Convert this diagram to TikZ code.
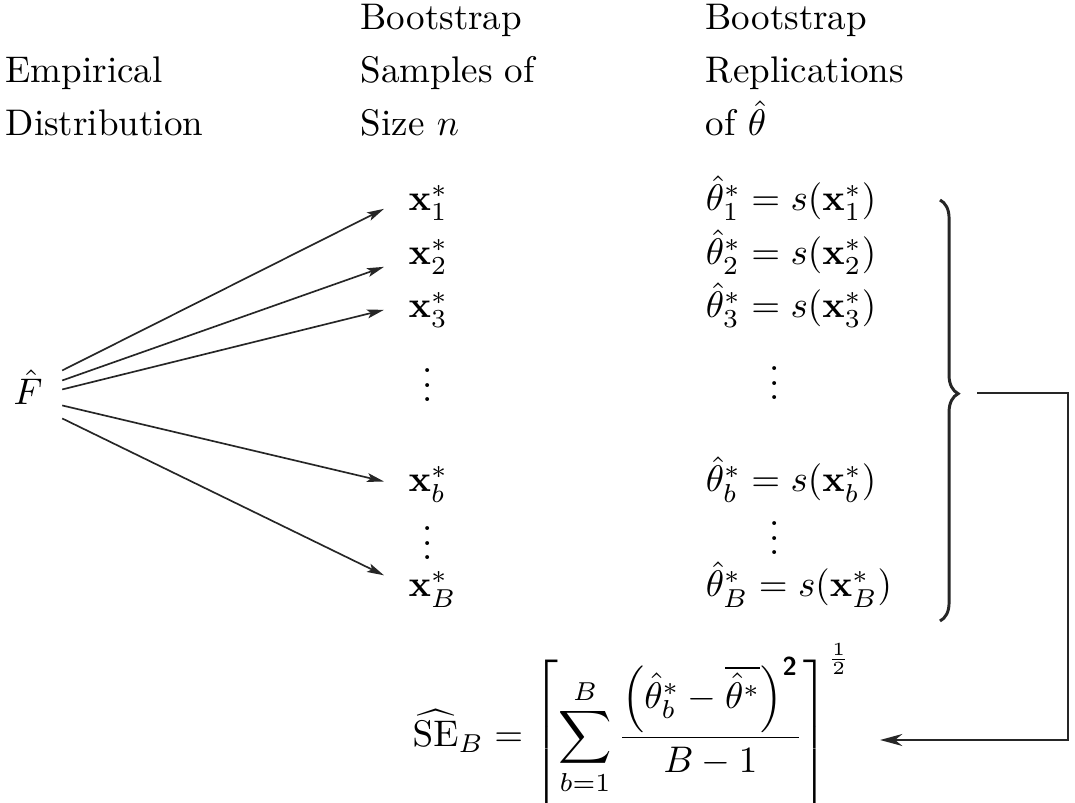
\documentclass[tikz,border=0pt]{standalone}
\usepackage{amsmath}
\usetikzlibrary{arrows.meta,decorations.pathreplacing,calc}
\begin{document}
\begin{tikzpicture}[x=0.27pt,y=-0.27pt,
  lbl/.style={anchor=base west, inner sep=0pt},
  dotsnode/.style={anchor=base, inner sep=0pt},
  samp/.style={-{Stealth[length=4.6pt,width=2.4pt,inset=1pt]}, line width=0.45pt, black!85},
  brc/.style={decorate, decoration={brace, amplitude=4.9pt, aspect=0.46}, line width=0.8pt, black!85},
  back/.style={-{Stealth[length=6pt,width=3.2pt]}, line width=0.8pt, black!85}]
\useasboundingbox (0,0) rectangle (1075,803);
\fill[white] (0,0) rectangle (1075,803);
% headings
\node[lbl] (h1) at (5,83) {Empirical};
\node[lbl] (h2) at (5,136) {Distribution};
\node[lbl] (h3) at (360,30) {Bootstrap};
\node[lbl] (h4) at (360,83) {Samples of};
\node[lbl] (h5) at (360,136) {Size $n$};
\node[lbl] (h6) at (705,30) {Bootstrap};
\node[lbl] (h7) at (705,83) {Replications};
\node[lbl] (h8) at (705,136) {of $\hat\theta$};
% empirical distribution
\node[anchor=base, inner sep=0pt] (F) at (28,405) {$\hat F$};
% samples
\node[lbl] (x1) at (408,211) {$\mathbf{x}^*_1$};
\node[lbl] (x2) at (408,265) {$\mathbf{x}^*_2$};
\node[lbl] (x3) at (408,318) {$\mathbf{x}^*_3$};
\node[dotsnode] (d1) at (428,402) {$\vdots$};
\node[lbl] (xb) at (408,492) {$\mathbf{x}^*_b$};
\node[dotsnode] (d2) at (428,560) {$\vdots$};
\node[lbl] (xB) at (408,597) {$\mathbf{x}^*_B$};
% replications
\node[lbl] (t1) at (705,211) {$\hat\theta^*_1 = s(\mathbf{x}^*_1)$};
\node[lbl] (t2) at (705,265) {$\hat\theta^*_2 = s(\mathbf{x}^*_2)$};
\node[lbl] (t3) at (705,318) {$\hat\theta^*_3 = s(\mathbf{x}^*_3)$};
\node[dotsnode] (d3) at (775,400) {$\vdots$};
\node[lbl] (tb) at (705,492) {$\hat\theta^*_b = s(\mathbf{x}^*_b)$};
\node[dotsnode] (d4) at (775,555) {$\vdots$};
\node[lbl] (tB) at (705,597) {$\hat\theta^*_B = s(\mathbf{x}^*_B)$};
% arrows
\draw[samp] ($(F.east)+(19,-17)$) -- ($(x1.west)+(-24,6)$);
\draw[samp] ($(F.east)+(19,-7)$) -- ($(x2.west)+(-24,10)$);
\draw[samp] ($(F.east)+(19,2)$) -- ($(x3.west)+(-24,0)$);
\draw[samp] ($(F.east)+(19,18)$) -- ($(xb.west)+(-24,-3)$);
\draw[samp] ($(F.east)+(19,31)$) -- ($(xB.west)+(-24,-14)$);
% brace
\coordinate (btop) at (940,200);
\coordinate (bbot) at (940,621);
\coordinate (tip) at (958,393);
\draw[brc] (btop) -- (bbot);
% formula
\node[anchor=base west, inner sep=0pt] (SE) at (412,747)
  {$\displaystyle \widehat{\mathrm{SE}}_B = \left[\sum_{b=1}^{B}\frac{\Bigl(\hat\theta^*_b-\overline{\hat\theta^*}\Bigr)^{\textsf{\bfseries 2}}}{B-1}\right]^{\frac{1}{2}}$};
% feedback connector
\coordinate (corner) at (1068,393);
\coordinate (fin) at (880,740);
\draw[back] ($(tip)+(19,0)$) -- (corner) |- (fin);
\end{tikzpicture}
\end{document}
